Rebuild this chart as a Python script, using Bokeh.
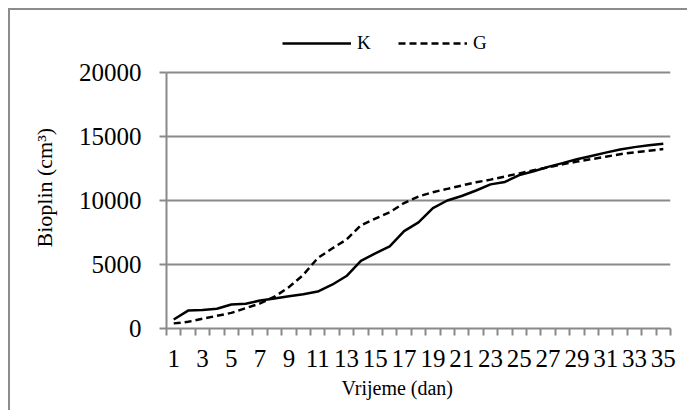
from bokeh.plotting import figure
from bokeh.models import (Range1d, FixedTicker, LinearAxis, Legend, LegendItem, Title)
from bokeh.embed import file_html
from bokeh.resources import INLINE

days = list(range(1, 36))
k_values = [700, 1400, 1450, 1540, 1870, 1930, 2190, 2340, 2520, 2680,
            2890, 3420, 4100, 5280, 5870, 6420, 7610, 8290, 9400, 10000,
            10350, 10780, 11260, 11450, 11980, 12290, 12630, 12920, 13220, 13480,
            13740, 13980, 14170, 14320, 14440]
g_values = [400, 520, 760, 990, 1220, 1590, 1960, 2480, 3230, 4190,
            5500, 6250, 6950, 8060, 8580, 9080, 9800, 10310, 10650, 10910,
            11170, 11420, 11630, 11870, 12120, 12360, 12590, 12830, 13040, 13230,
            13420, 13620, 13760, 13890, 14020]
x_tick_labels = [str(d) for d in days if d % 2 == 1]
y_ticks = [0, 5000, 10000, 15000, 20000]
series_names = ["K", "G"]

FONT = "Liberation Serif"
GRAY = "#898989"

# frame extends above the 20000 line to leave room for the legend
p = figure(width=679, height=402, output_backend="svg", toolbar_location=None,
           x_range=Range1d(0.5, 35.5), y_range=Range1d(0, 23750),
           x_axis_location=None, y_axis_location=None,
           min_border_left=155, min_border_right=19, min_border_top=14,
           min_border_bottom=84)
p.outline_line_color = None
p.xgrid.visible = False
p.ygrid.ticker = FixedTicker(ticks=y_ticks)
p.ygrid.grid_line_color = GRAY
p.ygrid.grid_line_width = 2
p.styles = {"margin-left": "8px", "margin-top": "8px",
            "border-left": "2px solid #8c8c8c", "border-top": "2px solid #8c8c8c"}

# y axis
yax = LinearAxis(ticker=FixedTicker(ticks=y_ticks), bounds=(0, 20000))
yax.axis_line_color = GRAY
yax.axis_line_width = 2
yax.major_tick_line_color = GRAY
yax.major_tick_line_width = 2
yax.major_tick_out = 7
yax.major_tick_in = 0
yax.minor_tick_line_color = None
yax.major_label_text_font = FONT
yax.major_label_text_font_size = "25px"
yax.major_label_text_color = "black"
yax.major_label_standoff = 18
p.add_layout(yax, "left")

ytitle = Title(text="Bioplin (cm³)", align="left", offset=81, standoff=38,
               text_font=FONT, text_font_size="22px", text_font_style="normal",
               text_color="black")
p.add_layout(ytitle, "left")

# x axis: tick marks between days
bounds = [d - 0.5 for d in days] + [days[-1] + 0.5]
xax1 = LinearAxis(ticker=FixedTicker(ticks=bounds))
xax1.axis_line_color = GRAY
xax1.axis_line_width = 2
xax1.major_tick_line_color = GRAY
xax1.major_tick_line_width = 2
xax1.major_tick_out = 7
xax1.major_tick_in = 0
xax1.minor_tick_line_color = None
xax1.major_label_overrides = {b: "" for b in bounds}
xax1.major_label_standoff = 0
p.add_layout(xax1, "below")

# x axis: labels at odd days
xax2 = LinearAxis(ticker=FixedTicker(ticks=[int(t) for t in x_tick_labels]))
xax2.axis_line_color = None
xax2.major_tick_line_color = None
xax2.minor_tick_line_color = None
xax2.major_tick_out = 0
xax2.major_label_text_font = FONT
xax2.major_label_text_font_size = "25px"
xax2.major_label_text_color = "black"
xax2.major_label_standoff = 14
p.add_layout(xax2, "below")

xtitle = Title(text="Vrijeme (dan)", align="left", offset=175, standoff=10,
               text_font=FONT, text_font_size="20px", text_font_style="normal",
               text_color="black")
p.add_layout(xtitle, "below")

rk = p.line(days, k_values, line_color="black", line_width=2.5)
rg = p.line(days, g_values, line_color="black", line_width=2.5, line_dash="7 4")

legend = Legend(items=[LegendItem(label=series_names[0], renderers=[rk]),
                       LegendItem(label=series_names[1], renderers=[rg])],
                orientation="horizontal", location=(116, 274),
                padding=0, margin=0, spacing=21, label_standoff=6,
                glyph_width=69, glyph_height=20,
                border_line_alpha=0, background_fill_alpha=0,
                label_text_font=FONT, label_text_font_size="19px",
                label_text_color="black")
p.add_layout(legend, "center")

open("out.html", "w").write(file_html(p, INLINE))
